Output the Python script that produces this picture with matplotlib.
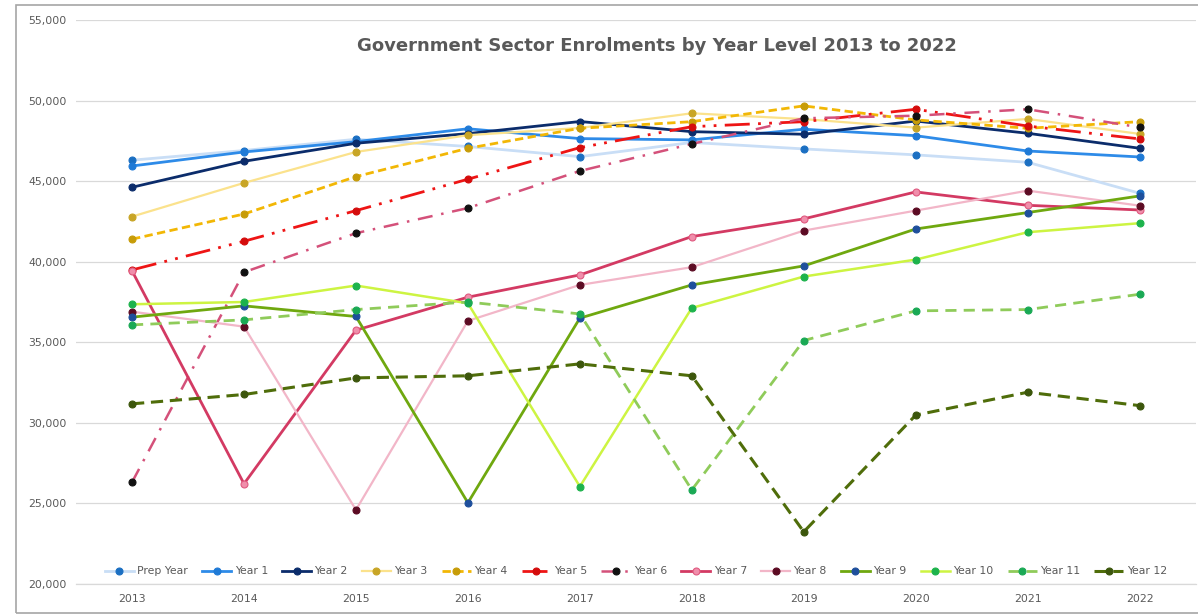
import matplotlib
matplotlib.use("Agg")
import matplotlib.pyplot as plt
from matplotlib.patches import Rectangle
from matplotlib.ticker import FuncFormatter

# Enrolment data (government sector), one list per year level
years = ["2013", "2014", "2015", "2016", "2017", "2018", "2019", "2020", "2021", "2022"]

prep_year = [46300, 46900, 47600, 47150, 46520, 47400, 47000, 46630, 46170, 44250]
year_1 = [45940, 46810, 47450, 48250, 47640, 47560, 48220, 47820, 46870, 46500]
year_2 = [44620, 46230, 47350, 47950, 48700, 48070, 47910, 48730, 47970, 47040]
year_3 = [42800, 44890, 46810, 47850, 48300, 49210, 48850, 48320, 48860, 47930]
year_4 = [41400, 42960, 45280, 47040, 48280, 48690, 49670, 48800, 48280, 48690]
year_5 = [39490, 41270, 43170, 45120, 47080, 48380, 48690, 49460, 48420, 47620]
year_6 = [26320, 39350, 41770, 43330, 45630, 47310, 48900, 49060, 49460, 48340]
year_7 = [39430, 26220, 35750, 37800, 39180, 41560, 42660, 44330, 43500, 43210]
year_8 = [36900, 35970, 24600, 36330, 38560, 39660, 41930, 43170, 44410, 43480]
year_9 = [36560, 37260, 36600, 25040, 36500, 38560, 39740, 42030, 43050, 44080]
year_10 = [37360, 37500, 38520, 37420, 26050, 37130, 39080, 40130, 41830, 42390]
year_11 = [36080, 36390, 37030, 37500, 36760, 25840, 35110, 36950, 37030, 37980]
year_12 = [31180, 31760, 32790, 32920, 33660, 32920, 23240, 30480, 31900, 31070]

series_names = ["Prep Year", "Year 1", "Year 2", "Year 3", "Year 4", "Year 5", "Year 6",
                "Year 7", "Year 8", "Year 9", "Year 10", "Year 11", "Year 12"]
series_values = [prep_year, year_1, year_2, year_3, year_4, year_5, year_6,
                 year_7, year_8, year_9, year_10, year_11, year_12]

# line colour, marker colour, line style, line width
styles = [
    ("#c9def6", "#1b6fc2", "-", 2.0),
    ("#2e8be8", "#1f7ad6", "-", 2.0),
    ("#0b2c6b", "#0b2c6b", "-", 2.0),
    ("#fbe28c", "#c8a526", "-", 1.6),
    ("#f2b705", "#c79c08", (0, (3, 1.6)), 2.0),
    ("#ee1515", "#d40c0c", (0, (9, 3, 1, 3, 1, 3)), 2.0),
    ("#d4517a", "#111111", (0, (6, 3.5, 1, 3.5)), 1.8),
    ("#d33a63", "#f08eab", "-", 2.0),
    ("#f2b6c8", "#5c0b23", "-", 1.6),
    ("#6fa80f", "#1e4f9c", "-", 2.0),
    ("#cdf442", "#1db34c", "-", 1.8),
    ("#8fcb5a", "#1aa955", (0, (4, 2.6)), 2.0),
    ("#4f6d0a", "#3c560c", (0, (4, 2.2)), 2.2),
]

plt.rcParams["font.family"] = ["DejaVu Sans"]

fig = plt.figure(figsize=(11.98, 6.15), dpi=100)
ax = fig.add_axes([0.0635, 0.0504, 0.9345, 0.9171])

# thin frame around the whole chart
fig.patches.append(Rectangle((16 / 1198, 0.004), 1.0, 0.988, transform=fig.transFigure,
                             fill=False, edgecolor="#a6a6a6", linewidth=1.2))

x_pos = range(len(years))
for name, vals, (lcol, mcol, ls, lw) in zip(series_names, series_values, styles):
    edge = "#e05a80" if name == "Year 7" else mcol
    ax.plot(x_pos, vals, linestyle=ls, color=lcol, linewidth=lw, marker="o",
            markersize=5.0, markerfacecolor=mcol, markeredgecolor=edge,
            markeredgewidth=0.8, label=name)

ax.set_xlim(-0.5, len(years) - 0.5)
ax.set_ylim(20000, 55000)
ax.set_yticks(range(20000, 55001, 5000))
ax.yaxis.set_major_formatter(FuncFormatter(lambda v, p: f"{int(v):,}"))
ax.set_xticks(list(x_pos))
ax.set_xticklabels(years)
ax.tick_params(axis="both", length=0, labelsize=7.8, colors="#595959")
ax.tick_params(axis="y", pad=7)
ax.tick_params(axis="x", pad=7)
ax.grid(axis="y", color="#d9d9d9", linewidth=0.9)
ax.set_axisbelow(True)
for side in ["top", "right", "left"]:
    ax.spines[side].set_visible(False)
ax.spines["bottom"].set_color("#d9d9d9")
ax.spines["bottom"].set_linewidth(0.9)

fig.text(0.548, 0.925, "Government Sector Enrolments by Year Level 2013 to 2022",
         ha="center", va="center", fontsize=13, fontweight="bold", color="#595959")

ax.legend(loc="lower center", bbox_to_anchor=(0.5, 0.0), ncol=13, frameon=False,
          fontsize=7.8, handlelength=2.7, handletextpad=0.3, columnspacing=1.3,
          labelcolor="#595959", borderaxespad=0.3)

fig.savefig("out.png", dpi=100, facecolor="white")
